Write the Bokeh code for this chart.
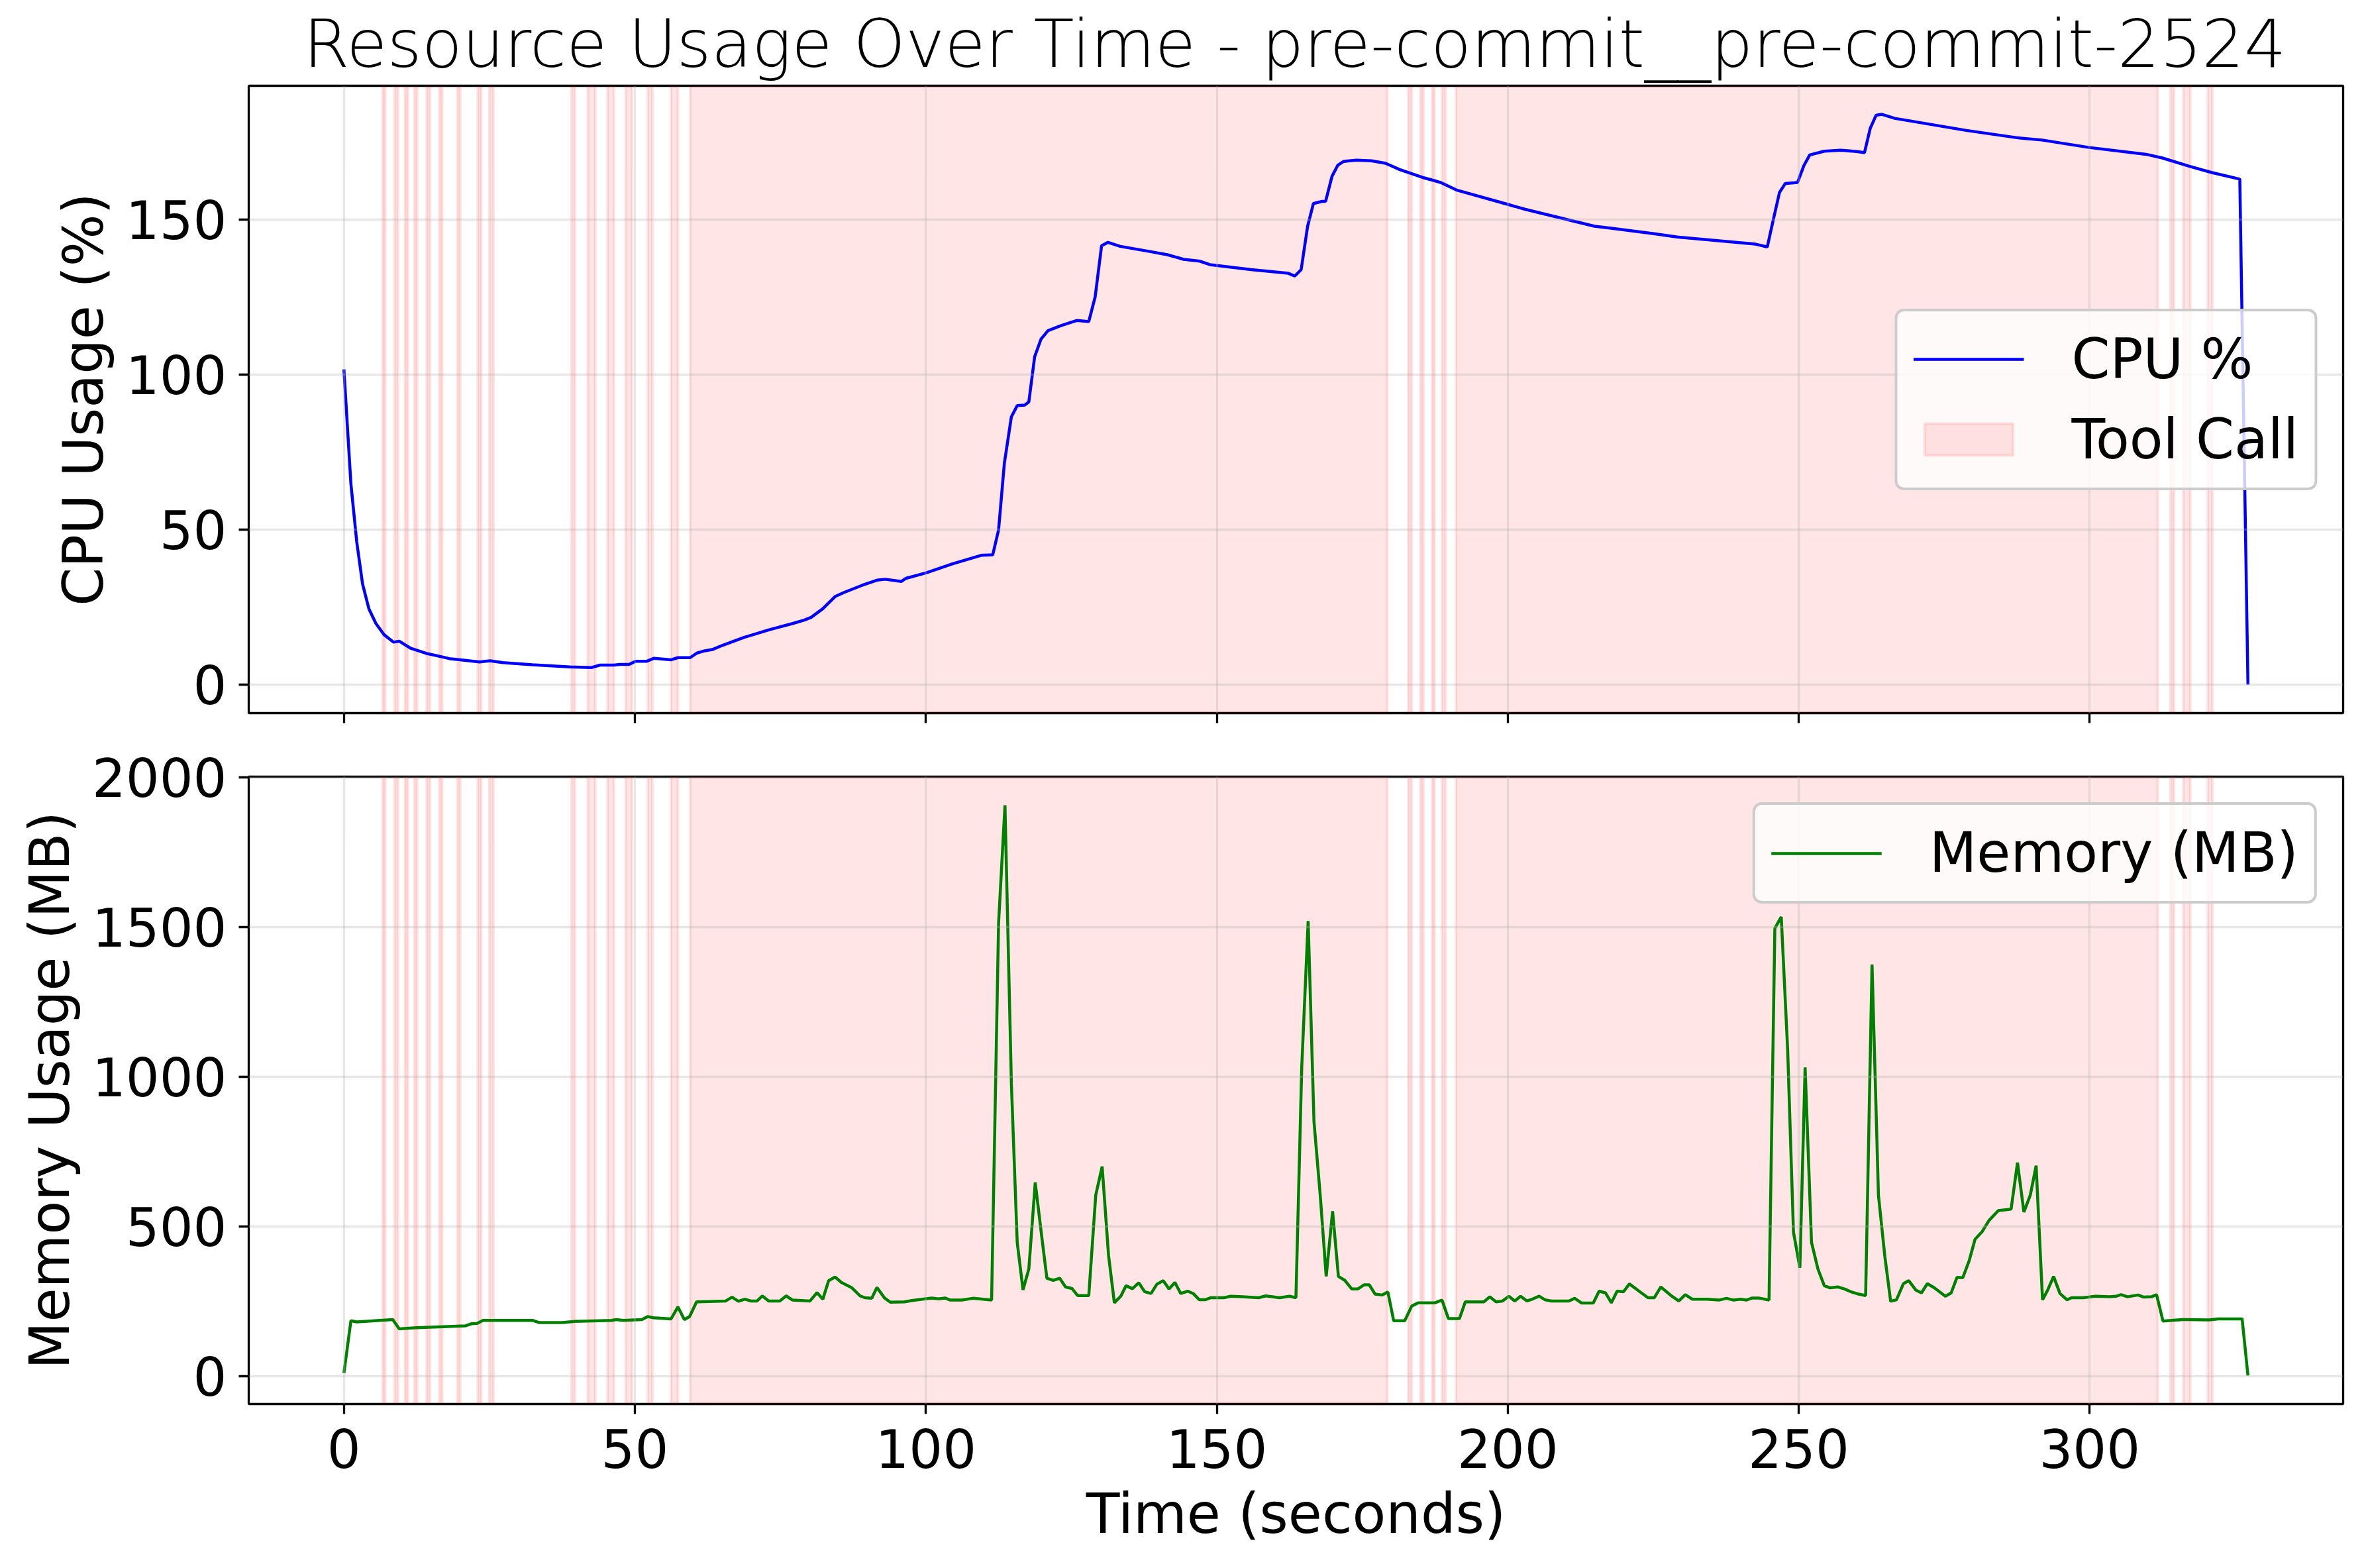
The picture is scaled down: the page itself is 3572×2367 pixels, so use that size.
from bokeh.plotting import figure
from bokeh.layouts import column
from bokeh.models import Range1d, FixedTicker, Legend, LegendItem
from bokeh.embed import file_html
from bokeh.resources import INLINE

# ---------------- data ----------------
cpu_time = [0, 1.2, 2.2, 3.2, 4.3, 5.5, 6.9, 8.5, 9.5, 11.5, 14.1, 16.5, 18.1, 20.5, 23.3, 25.1,
            27.3, 32.4, 38.8, 42.6, 44.0, 46.4, 47.4, 49.0, 50.1, 52.0, 53.3, 56.2, 57.4, 59.5,
            60.7, 62.0, 63.3, 65.1, 68.7, 73.1, 77.1, 79.1, 80.3, 82.3, 84.4, 85.9, 89.0, 91.6,
            93.0, 95.8, 96.6, 100.1, 104.5, 109.5, 111.5, 112.5, 113.5, 114.7, 115.7, 117.0,
            117.7, 118.7, 119.8, 121.0, 123.2, 126.0, 128.0, 129.1, 130.2, 131.3, 133.4, 138.3,
            141.5, 144.3, 147.1, 148.8, 155.9, 162.3, 163.4, 164.5, 165.6, 166.6, 168.1, 168.7,
            169.8, 170.8, 171.8, 174.0, 176.6, 179.0, 181.4, 183.4, 185.4, 187.0, 188.6, 191.3,
            199.7, 202.9, 214.9, 218.0, 225.1, 229.1, 242.6, 244.6, 245.6, 246.7, 247.7, 249.8,
            250.9, 251.9, 254.4, 257.2, 260.0, 261.3, 262.3, 263.3, 264.3, 266.5, 278.8, 287.7,
            291.8, 299.9, 309.7, 312.5, 317.0, 321.0, 325.8, 327.2]
cpu_pct = [101.7, 64.8, 46.1, 32.5, 24.4, 19.7, 16.1, 13.7, 14.0, 11.7, 10.1, 9.1, 8.4, 7.9, 7.3, 7.7,
           7.1, 6.4, 5.7, 5.5, 6.3, 6.3, 6.5, 6.5, 7.5, 7.5, 8.5, 8.0, 8.7, 8.7,
           10.2, 10.9, 11.3, 12.7, 15.2, 17.7, 19.7, 20.8, 21.7, 24.5, 28.4, 29.7, 32.0, 33.7,
           34.0, 33.3, 34.3, 36.1, 38.9, 41.7, 41.9, 49.9, 71.5, 86.4, 90.0, 90.2,
           91.2, 105.8, 111.5, 114.2, 115.8, 117.5, 117.1, 125.1, 141.6, 142.7, 141.4, 139.8,
           138.7, 137.2, 136.6, 135.5, 133.9, 132.7, 131.8, 133.9, 147.8, 155.2, 155.9, 155.9,
           164.0, 167.6, 168.8, 169.2, 169.0, 168.2, 166.2, 164.9, 163.6, 162.8, 161.9, 159.5,
           155.1, 153.4, 147.9, 147.2, 145.5, 144.4, 142.1, 141.2, 149.7, 158.8, 161.7, 162.0,
           167.5, 170.9, 172.1, 172.4, 172.0, 171.6, 179.5, 183.7, 184.0, 182.7, 178.8, 176.4,
           175.7, 173.3, 171.1, 169.9, 167.3, 165.2, 163.1, 0.0]

mem_time = [0, 1.2, 2.2, 8.4, 9.5, 12.5, 20.9, 21.9, 22.9, 23.9, 32.5, 33.5, 37.6, 39.6, 46.0, 46.8,
            48.0, 51.2, 52.2, 53.2, 56.2, 57.4, 58.5, 59.4, 60.6, 65.6, 66.7, 67.8, 68.9, 69.9,
            71.0, 71.9, 73.0, 74.9, 76.0, 77.1, 80.1, 81.3, 82.3, 83.3, 84.4, 85.5, 87.3, 88.7,
            89.5, 90.7, 91.6, 92.9, 93.9, 96.3, 97.8, 101.0, 102.2, 103.3, 104.2, 106.2, 108.1,
            111.3, 112.5, 113.6, 114.7, 115.7, 116.7, 117.7, 118.8, 119.8, 120.8, 121.9, 123.0,
            124.0, 125.1, 126.1, 128.0, 129.2, 130.3, 131.4, 132.4, 133.5, 134.4, 135.5, 136.6,
            137.6, 138.7, 139.7, 140.8, 141.8, 142.8, 143.8, 145.0, 146.0, 147.0, 148.0, 149.0,
            151.2, 152.4, 154.4, 157.2, 158.4, 160.8, 162.5, 163.6, 164.6, 165.7, 166.7, 167.8,
            168.8, 169.9, 170.9, 172.0, 173.2, 174.2, 175.3, 176.2, 177.2, 178.4, 179.4, 180.4,
            182.3, 183.5, 184.6, 187.5, 188.7, 189.8, 191.7, 192.7, 195.9, 196.9, 198.0, 199.1,
            200.2, 201.2, 202.2, 203.3, 204.3, 205.4, 206.4, 207.5, 210.5, 211.5, 212.7, 214.7,
            215.7, 216.8, 217.8, 218.8, 219.9, 220.9, 222.9, 224.1, 225.2, 226.3, 228.2, 229.4,
            230.5, 231.7, 234.3, 236.3, 237.6, 238.8, 240.0, 241.0, 242.0, 243.1, 244.9, 245.9,
            247.0, 248.1, 249.1, 250.2, 251.1, 252.2, 253.3, 254.4, 255.4, 256.7, 257.9, 259.1,
            260.3, 261.5, 262.6, 263.7, 264.8, 265.8, 266.8, 268.0, 268.9, 270.1, 271.1, 272.1,
            273.3, 275.2, 276.2, 277.2, 278.2, 279.3, 280.3, 281.5, 282.7, 284.3, 286.5, 287.6,
            288.7, 289.8, 290.8, 291.9, 292.8, 293.8, 294.9, 296.1, 296.9, 298.9, 301.0, 303.4,
            304.6, 305.4, 306.5, 308.3, 309.3, 310.6, 311.5, 312.6, 314.0, 316.0, 320.5, 322.1,
            326.2, 327.2]
mem_mb = [11, 186, 182, 190, 159, 163, 169, 176, 177, 187, 187, 180, 180, 184, 187, 190,
          187, 190, 200, 196, 192, 232, 190, 200, 249, 252, 265, 251, 258, 252,
          252, 269, 252, 252, 269, 255, 252, 280, 258, 320, 332, 314, 296, 269,
          263, 261, 297, 262, 248, 249, 254, 262, 259, 262, 255, 255, 261,
          255, 1514, 1908, 979, 448, 289, 359, 648, 486, 328, 321, 328,
          299, 294, 270, 270, 606, 701, 404, 246, 268, 303, 293, 313,
          283, 277, 308, 320, 292, 314, 277, 285, 276, 256, 256, 263,
          263, 268, 266, 263, 269, 263, 268, 263, 1035, 1521, 852, 599,
          334, 552, 334, 321, 292, 292, 306, 306, 275, 272, 282, 186,
          186, 235, 246, 246, 255, 193, 193, 249, 249, 266, 249, 252,
          268, 252, 268, 252, 259, 268, 256, 252, 252, 261, 245, 245,
          285, 279, 246, 285, 283, 309, 280, 263, 263, 299, 268, 252,
          273, 258, 258, 255, 261, 255, 258, 255, 262, 262, 255, 1497,
          1535, 1092, 482, 363, 1032, 448, 359, 303, 296, 299, 292, 282,
          275, 270, 1376, 606, 401, 251, 256, 310, 320, 289, 279, 310,
          296, 268, 279, 331, 330, 387, 458, 483, 521, 554, 559, 714,
          549, 606, 704, 256, 289, 334, 277, 256, 263, 263, 268, 266,
          268, 273, 266, 272, 265, 266, 273, 185, 187, 190, 189, 192,
          192, 3]

tool_start = [6.65, 8.7, 10.5, 12.1, 14.2, 16.4, 19.5, 23.0, 25.0, 39.1, 41.9, 45.3, 48.4, 52.2,
              56.2, 59.5, 182.9, 185.0, 187.0, 188.7, 191.1, 313.9, 316.1, 320.3]
tool_end = [7.1, 9.3, 11.0, 12.6, 14.8, 16.9, 20.0, 23.6, 25.7, 39.7, 43.2, 46.4, 49.5, 53.0,
            57.4, 179.3, 183.5, 185.5, 187.4, 189.3, 311.7, 314.5, 317.3, 321.1]

x_ticks = [0, 50, 100, 150, 200, 250, 300]
cpu_ticks = [0, 50, 100, 150]
mem_ticks = [0, 500, 1000, 1500, 2000]

title_text = "Resource Usage Over Time - pre-commit__pre-commit-2524"

# ---------------- helpers ----------------
FONT = "DejaVu Sans"


def padded(lo, hi, m=0.05):
    span = hi - lo
    return lo - m * span, hi + m * span


x0, x1 = padded(min(cpu_time + mem_time), max(cpu_time + mem_time))
c0, c1 = padded(min(cpu_pct), max(cpu_pct))
m0, m1 = padded(min(mem_mb), max(mem_mb))

xr = Range1d(x0, x1)


def style(p, yticks):
    p.background_fill_color = "white"
    p.border_fill_color = "white"
    p.outline_line_color = "black"
    p.outline_line_width = 3.3
    p.outline_line_alpha = 1.0
    for ax in p.axis:
        ax.axis_line_color = None
        ax.major_tick_line_color = "black"
        ax.major_tick_line_width = 3.3
        ax.major_tick_out = 15
        ax.major_tick_in = 0
        ax.minor_tick_line_color = None
        ax.major_label_text_font = FONT
        ax.major_label_text_font_size = "80px"
        ax.major_label_text_color = "black"
        ax.axis_label_text_font = FONT
        ax.axis_label_text_font_size = "83px"
        ax.axis_label_text_font_style = "normal"
        ax.axis_label_text_color = "black"
    p.xaxis.ticker = FixedTicker(ticks=x_ticks)
    p.yaxis.ticker = FixedTicker(ticks=yticks)
    p.yaxis.major_label_standoff = 18
    p.yaxis.axis_label_standoff = 12
    for g in p.grid:
        g.grid_line_color = "#b0b0b0"
        g.grid_line_alpha = 0.3
        g.grid_line_width = 3.3
        g.level = "glyph"


def add_spans(p, lo, hi):
    return p.quad(left=tool_start, right=tool_end, bottom=lo, top=hi,
                  fill_color="red", fill_alpha=0.1, line_color="red", line_alpha=0.1,
                  line_width=4, level="underlay")


def style_legend(leg):
    leg.label_text_font = FONT
    leg.label_text_font_size = "83px"
    leg.label_text_color = "black"
    leg.glyph_width = 167
    leg.glyph_height = 60
    leg.label_standoff = 72
    leg.padding = 24
    leg.spacing = 24
    leg.margin = 39
    leg.border_line_color = "#cccccc"
    leg.border_line_width = 4
    leg.border_line_alpha = 1.0
    leg.border_radius = 14
    leg.background_fill_color = "white"
    leg.background_fill_alpha = 0.8


# ---------------- top: CPU ----------------
p1 = figure(frame_width=3162, frame_height=947, x_range=xr, y_range=Range1d(c0, c1),
            output_backend="svg", toolbar_location=None, tools="",
            min_border_left=375, min_border_right=19, min_border_top=0, min_border_bottom=48,
            title=title_text)
p1.title.text_font = FONT
p1.title.text_font_size = "100px"
p1.title.text_font_style = "normal"
p1.title.align = "center"
p1.title.text_color = "black"

q1 = add_spans(p1, c0, c1)
l1 = p1.line(cpu_time, cpu_pct, line_color="blue", line_width=4.5)
style(p1, cpu_ticks)
# the top panel shows tick marks only (labels are on the shared bottom axis)
p1.xaxis.major_label_overrides = {t: "" for t in x_ticks}
p1.xaxis.major_label_text_font_size = "20px"
p1.yaxis.axis_label = "CPU Usage (%)"

leg1 = Legend(items=[LegendItem(label="CPU %", renderers=[l1]),
                     LegendItem(label="Tool Call", renderers=[q1])],
              location="right")
style_legend(leg1)
p1.add_layout(leg1)

# ---------------- bottom: memory ----------------
p2 = figure(frame_width=3162, frame_height=947, x_range=xr, y_range=Range1d(m0, m1),
            output_backend="svg", toolbar_location=None, tools="",
            min_border_left=375, min_border_right=19, min_border_top=48, min_border_bottom=238)
q2 = add_spans(p2, m0, m1)
l2 = p2.line(mem_time, mem_mb, line_color="green", line_width=4.5)
style(p2, mem_ticks)
p2.xaxis.major_label_standoff = 22
p2.xaxis.axis_label_standoff = 18
p2.xaxis.axis_label = "Time (seconds)"
p2.yaxis.axis_label = "Memory Usage (MB)"

leg2 = Legend(items=[LegendItem(label="Memory (MB)", renderers=[l2])], location="top_right")
style_legend(leg2)
p2.add_layout(leg2)

layout = column(p1, p2, spacing=0)

with open("out.html", "w") as f:
    f.write(file_html(layout, INLINE))
